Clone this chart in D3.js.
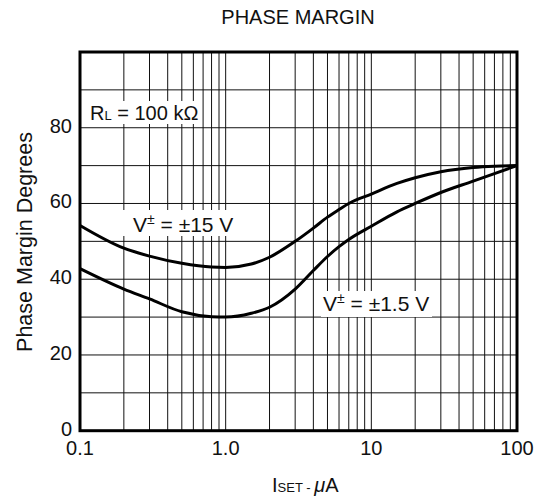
<!DOCTYPE html>
<html>
<head>
<meta charset="utf-8">
<script src="https://cdn.jsdelivr.net/npm/d3@7"></script>
<style>
  body { margin: 0; background: #fff; }
  text { font-family: Arial, "Liberation Sans", Helvetica, sans-serif; fill: #111; }
</style>
</head>
<body>
<div id="chart"></div>
<script>
// phase margin vs ISET
var iset = [0.1, 0.2, 0.3, 0.5, 0.8, 1, 1.5, 2, 3, 4, 5, 6, 7, 10, 15, 20, 30, 50, 70, 100];
var pm15 = [54.2, 48.2, 46.1, 44.2, 43.2, 43.1, 44.0, 45.8, 50.0, 53.5, 56.4, 58.4, 60.0, 62.5, 65.3, 66.8, 68.4, 69.5, 69.85, 70];
var pm1p5 = [42.8, 37.4, 34.8, 31.4, 30.1, 30.0, 31.0, 32.6, 37.4, 42.3, 46.0, 48.6, 50.5, 54.0, 57.8, 60.0, 62.9, 65.9, 67.9, 70];

var xTicks = [0.1, 1, 10, 100];
var xTickLabels = ["0.1", "1.0", "10", "100"];
var yTicks = [0, 20, 40, 60, 80];
var yGrid = [10, 20, 30, 40, 50, 60, 70, 80, 90];

var width = 546,
    height = 504;
var plotL = 80, plotR = 517, plotT = 52, plotB = 430.7;

var svg = d3.select("#chart").append("svg")
    .attr("width", width)
    .attr("height", height);

var x = d3.scaleLog().domain([0.1, 100]).range([plotL, plotR]);
var y = d3.scaleLinear().domain([0, 100]).range([plotB, plotT]);

// vertical grid: every 1..9 in each decade
var xGrid = [];
[0.1, 1, 10].forEach(function (dec) {
    for (var k = 1; k <= 9; k++) {
        if (dec * k > 0.1) xGrid.push(dec * k);
    }
});

var grid = svg.append("g").attr("stroke", "#111").attr("stroke-width", 1);

grid.selectAll("line.v")
    .data(xGrid)
    .enter().append("line")
    .attr("class", "v")
    .attr("x1", function (d) { return x(d); })
    .attr("x2", function (d) { return x(d); })
    .attr("y1", plotT)
    .attr("y2", plotB);

grid.selectAll("line.h")
    .data(yGrid)
    .enter().append("line")
    .attr("class", "h")
    .attr("x1", plotL)
    .attr("x2", plotR)
    .attr("y1", function (d) { return y(d); })
    .attr("y2", function (d) { return y(d); });

// white boxes behind the annotations
var boxes = [
    {x: 87, y: 101, w: 115, h: 23},
    {x: 121, y: 210, w: 119, h: 26},
    {x: 321, y: 291, w: 111, h: 26}
];
svg.append("g").selectAll("rect")
    .data(boxes)
    .enter().append("rect")
    .attr("x", function (d) { return d.x; })
    .attr("y", function (d) { return d.y; })
    .attr("width", function (d) { return d.w; })
    .attr("height", function (d) { return d.h; })
    .attr("fill", "#fff");

// curves
var line = d3.line()
    .x(function (d) { return x(d[0]); })
    .y(function (d) { return y(d[1]); })
    .curve(d3.curveMonotoneX);

[pm15, pm1p5].forEach(function (series) {
    svg.append("path")
        .datum(iset.map(function (v, i) { return [v, series[i]]; }))
        .attr("d", line)
        .attr("fill", "none")
        .attr("stroke", "#000")
        .attr("stroke-width", 3);
});

// frame
svg.append("rect")
    .attr("x", plotL)
    .attr("y", plotT)
    .attr("width", plotR - plotL)
    .attr("height", plotB - plotT)
    .attr("fill", "none")
    .attr("stroke", "#000")
    .attr("stroke-width", 3);

// tick labels
svg.append("g").selectAll("text")
    .data(yTicks)
    .enter().append("text")
    .attr("x", 72)
    .attr("y", function (d) { return y(d) + 5; })
    .attr("text-anchor", "end")
    .style("font-size", "20px")
    .text(function (d) { return d; });

svg.append("g").selectAll("text")
    .data(xTicks)
    .enter().append("text")
    .attr("x", function (d) { return x(d); })
    .attr("y", 455)
    .attr("text-anchor", "middle")
    .style("font-size", "20px")
    .text(function (d, i) { return xTickLabels[i]; });

// title
svg.append("text")
    .attr("x", 298)
    .attr("y", 24)
    .attr("text-anchor", "middle")
    .style("font-size", "20px")
    .text("PHASE MARGIN");

// y axis label
svg.append("text")
    .attr("transform", "translate(32,242) rotate(-90)")
    .attr("text-anchor", "middle")
    .style("font-size", "21.5px")
    .text("Phase Margin Degrees");

// x axis label
var xl = svg.append("text")
    .attr("x", 272)
    .attr("y", 492)
    .style("font-size", "20px");
xl.append("tspan").text("I");
xl.append("tspan").style("font-size", "13px").text("SET - ");
xl.append("tspan").style("font-style", "italic").text("\u03bc");
xl.append("tspan").text("A");

// annotations
var rl = svg.append("text")
    .attr("x", 90)
    .attr("y", 120)
    .style("font-size", "20px");
rl.append("tspan").text("R");
rl.append("tspan").style("font-size", "13px").text("L");
rl.append("tspan").text(" = 100 k\u03a9");

function supplyLabel(px, py, val) {
    var t = svg.append("text")
        .attr("x", px)
        .attr("y", py)
        .style("font-size", "21px");
    t.append("tspan").text("V");
    t.append("tspan").attr("dy", -8).style("font-size", "14px").text("\u00b1");
    t.append("tspan").attr("dy", 8).text(" = \u00b1" + val + " V");
}
supplyLabel(133, 232, "15");
supplyLabel(323, 311, "1.5");
</script>
</body>
</html>
